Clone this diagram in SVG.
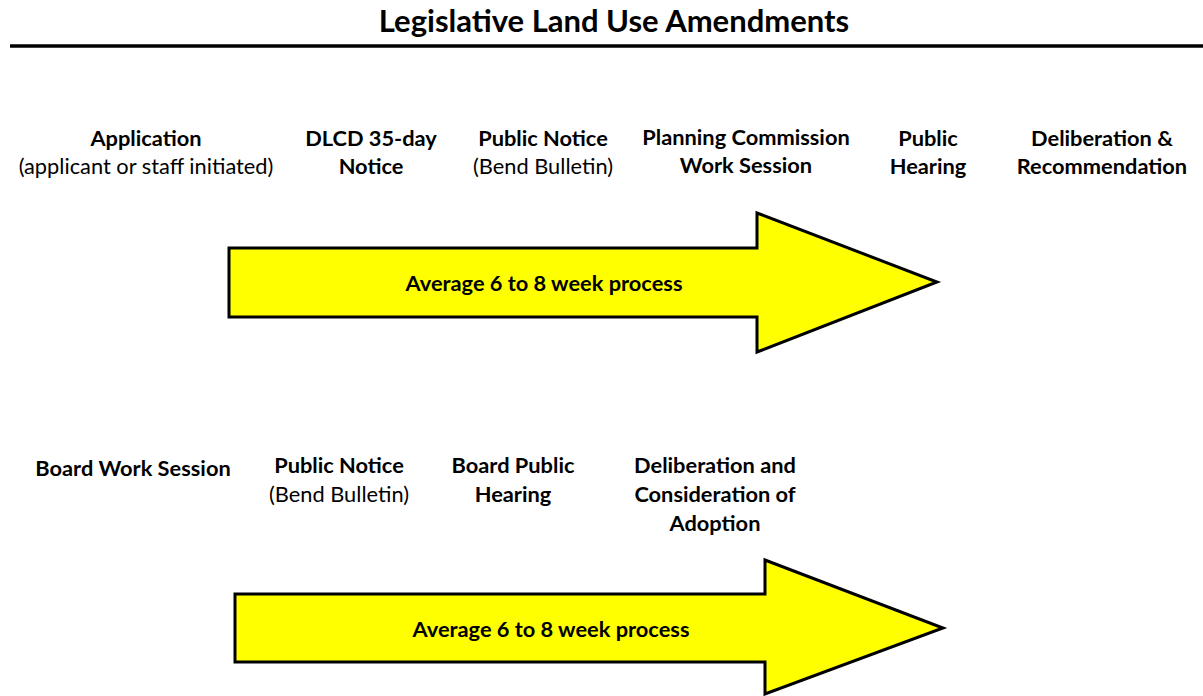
<svg xmlns="http://www.w3.org/2000/svg" width="1203" height="696" viewBox="0 0 1203 696">
<style>
text{font-family:Lato,"Open Sans","Liberation Sans",sans-serif;font-size:21.8px;text-anchor:middle;fill:#000}
.b{font-weight:bold}
.t{font-size:31px;font-weight:bold}
.arrow{fill:#ffff00;stroke:#000;stroke-width:3;stroke-linejoin:miter}
</style>
<rect width="1203" height="696" fill="#fff"/>
<g id="title">
<text class="t" x="614" y="32">Legislative Land Use Amendments</text>
<line x1="10" y1="46" x2="1203" y2="46" stroke="#000" stroke-width="3.5"/>
</g>
<g id="application"><text class="b" x="146" y="146">Application</text><text x="146" y="174">(applicant or staff initiated)</text></g>
<g id="dlcd"><text class="b" x="371" y="146">DLCD 35-day</text><text class="b" x="371" y="174">Notice</text></g>
<g id="notice1"><text class="b" x="543" y="146">Public Notice</text><text x="543" y="174">(Bend Bulletin)</text></g>
<g id="pcws"><text class="b" x="746" y="145">Planning Commission</text><text class="b" x="746" y="173">Work Session</text></g>
<g id="hearing1"><text class="b" x="928" y="146">Public</text><text class="b" x="928" y="174">Hearing</text></g>
<g id="delib1"><text class="b" x="1102" y="146">Deliberation &amp;</text><text class="b" x="1102" y="174">Recommendation</text></g>
<g id="arrow1">
<polygon class="arrow" points="229,248 757,248 757,213 937,282 757,352 757,317 229,317"/>
<text class="b" x="544" y="291">Average 6 to 8 week process</text>
</g>
<g id="bws"><text class="b" x="133" y="476">Board Work Session</text></g>
<g id="notice2"><text class="b" x="339" y="473">Public Notice</text><text x="339" y="502">(Bend Bulletin)</text></g>
<g id="hearing2"><text class="b" x="513" y="473">Board Public</text><text class="b" x="513" y="502">Hearing</text></g>
<g id="delib2"><text class="b" x="715" y="473">Deliberation and</text><text class="b" x="715" y="502">Consideration of</text><text class="b" x="715" y="531">Adoption</text></g>
<g id="arrow2">
<polygon class="arrow" points="235,594 765,594 765,560 943,628 765,694 765,662 235,662"/>
<text class="b" x="551" y="637">Average 6 to 8 week process</text>
</g>
<g id="connectors"></g>
</svg>
